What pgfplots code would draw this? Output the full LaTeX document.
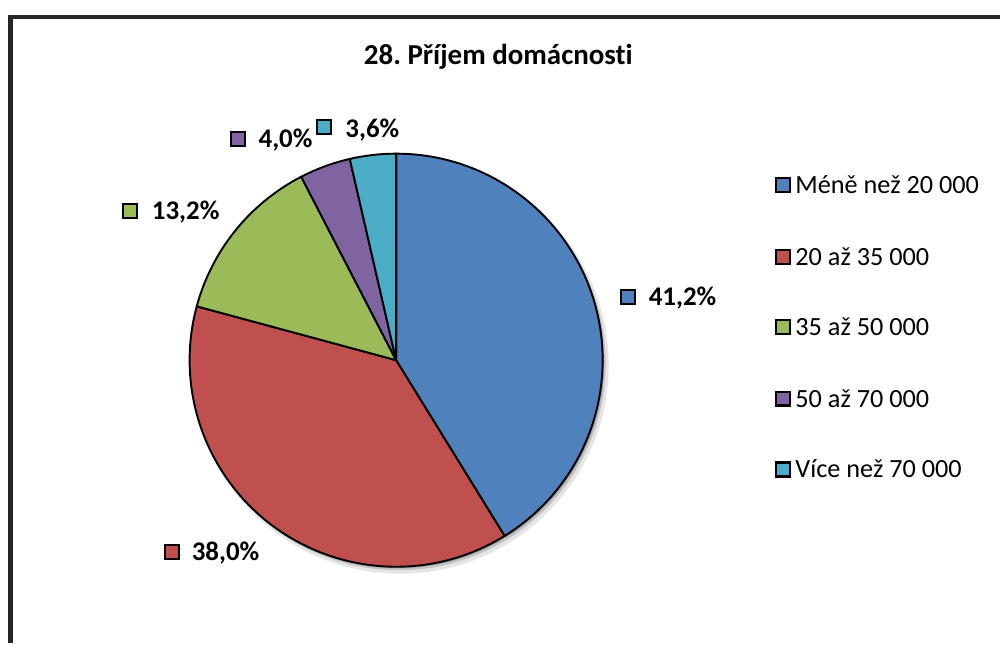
\documentclass[border=0pt]{standalone}
\usepackage{pgfplots}
\pgfplotsset{compat=1.18}
\usepackage{fontspec}
\setmainfont{Carlito}[Ligatures=NoCommon]
\frenchspacing
\definecolor{pblue}{HTML}{4F81BD}
\definecolor{pred}{HTML}{C0504D}
\definecolor{pgreen}{HTML}{9BBB59}
\definecolor{ppurple}{HTML}{8064A2}
\definecolor{pcyan}{HTML}{4BACC6}
% shares in percent (cumulative boundaries drawn clockwise from the top)
% Méně než 20 000: 41.2, 20 až 35 000: 38.0, 35 až 50 000: 13.2, 50 až 70 000: 4.0, Více než 70 000: 3.6
\newcommand{\slice}[3]{%
  \filldraw[fill=#3, draw=black, line width=1.9pt, line join=round]
    (axis cs:397,283) -- ++({90-#1*3.6}:207pt)
    arc[start angle={90-#1*3.6}, end angle={90-#2*3.6}, radius=207pt] -- cycle;}
\newcommand{\key}[3]{% x, y(top, px), colour
  \filldraw[fill=#3, draw=black, line width=2.2pt] (axis cs:#1,{644-#2}) rectangle (axis cs:{#1+14},{644-#2-14});}
\begin{document}
\begin{tikzpicture}
\begin{axis}[
  x=1pt, y=1pt,
  xmin=0, xmax=1002, ymin=0, ymax=644,
  hide axis, clip=false,
]
\path (axis cs:0,0) rectangle (axis cs:1002,644);
% frame
\draw[line width=4.5pt, black!85] (axis cs:10.5,0) -- (axis cs:10.5,627) -- (axis cs:1002,627);
% title
\node[anchor=base, font=\bfseries\fontsize{29}{34}\selectfont, inner sep=0] at (axis cs:499.5,579) {28. Příjem domácnosti};
% shadow
\fill[black, opacity=0.10] (axis cs:401,278) circle[radius=209pt];
\fill[black, opacity=0.15] (axis cs:399.5,280) circle[radius=207.5pt];
\fill[black, opacity=0.2] (axis cs:398.5,281.5) circle[radius=207pt];
% slices
\slice{0}{41.2}{pblue}
\slice{41.2}{79.2}{pred}
\slice{79.2}{92.4}{pgreen}
\slice{92.4}{96.4}{ppurple}
\slice{96.4}{100}{pcyan}
% data labels
\key{622.5}{290.5}{pblue}
\node[anchor=base west, font=\bfseries\fontsize{27}{31}\selectfont, inner sep=0] at (axis cs:650,338) {41,2\%};
\key{165.5}{546}{pred}
\node[anchor=base west, font=\bfseries\fontsize{27}{31}\selectfont, inner sep=0] at (axis cs:192,82) {38,0\%};
\key{123.5}{204.5}{pgreen}
\node[anchor=base west, font=\bfseries\fontsize{27}{31}\selectfont, inner sep=0] at (axis cs:152,424) {13,2\%};
\key{231.5}{132.5}{ppurple}
\node[anchor=base west, font=\bfseries\fontsize{27}{31}\selectfont, inner sep=0] at (axis cs:259,496) {4,0\%};
\key{317.5}{120.5}{pcyan}
\node[anchor=base west, font=\bfseries\fontsize{27}{31}\selectfont, inner sep=0] at (axis cs:346,506) {3,6\%};
% legend
\key{777.5}{178.5}{pblue}
\node[anchor=base west, font=\fontsize{26.3}{30}\selectfont, inner sep=0] at (axis cs:797,450) {Méně než 20 000};
\key{777.5}{250.5}{pred}
\node[anchor=base west, font=\fontsize{26.3}{30}\selectfont, inner sep=0] at (axis cs:797,378) {20 až 35 000};
\key{777.5}{320.5}{pgreen}
\node[anchor=base west, font=\fontsize{26.3}{30}\selectfont, inner sep=0] at (axis cs:797,308) {35 až 50 000};
\key{777.5}{392.5}{ppurple}
\node[anchor=base west, font=\fontsize{26.3}{30}\selectfont, inner sep=0] at (axis cs:797,236) {50 až 70 000};
\key{777.5}{463.5}{pcyan}
\node[anchor=base west, font=\fontsize{26.3}{30}\selectfont, inner sep=0] at (axis cs:797,165) {Více než 70 000};
\end{axis}
\end{tikzpicture}
\end{document}
